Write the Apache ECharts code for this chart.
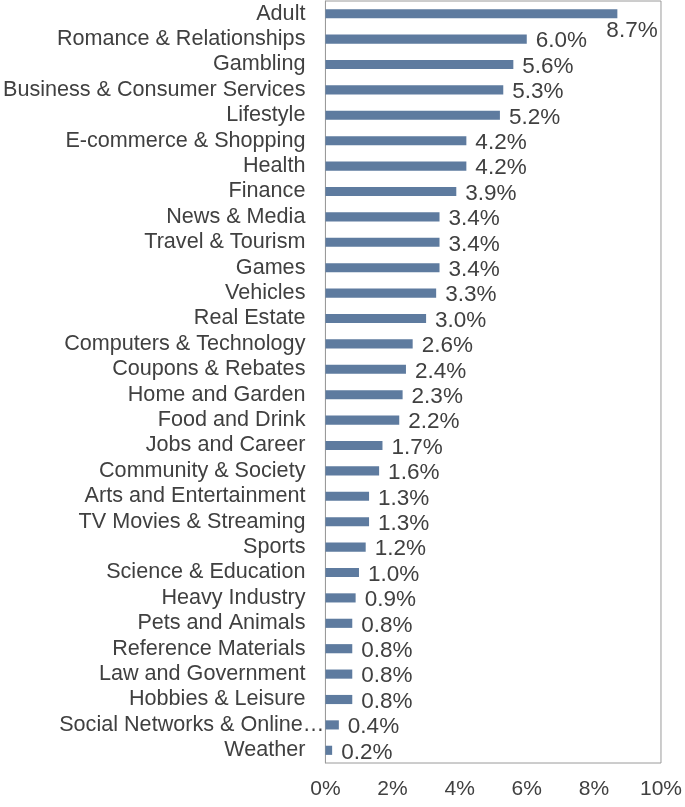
<!DOCTYPE html>
<html><head><meta charset="utf-8">
<script src="https://cdn.jsdelivr.net/npm/echarts@6/dist/echarts.min.js"></script>
<style>html,body{margin:0;padding:0;background:#fff}#c{width:685px;height:807px}</style>
</head><body><div id="c"></div>
<script>
const categories = ["Adult","Romance & Relationships","Gambling","Business & Consumer Services","Lifestyle","E-commerce & Shopping","Health","Finance","News & Media","Travel & Tourism","Games","Vehicles","Real Estate","Computers & Technology","Coupons & Rebates","Home and Garden","Food and Drink","Jobs and Career","Community & Society","Arts and Entertainment","TV Movies & Streaming","Sports","Science & Education","Heavy Industry","Pets and Animals","Reference Materials","Law and Government","Hobbies & Leisure","Social Networks & Online…","Weather"];
const values = [8.7,6.0,5.6,5.3,5.2,4.2,4.2,3.9,3.4,3.4,3.4,3.3,3.0,2.6,2.4,2.3,2.2,1.7,1.6,1.3,1.3,1.2,1.0,0.9,0.8,0.8,0.8,0.8,0.4,0.2];
const xTicks = [0,2,4,6,8,10];

const chart = echarts.init(document.getElementById('c'), null, {renderer:'canvas'});
const txt = '#404040';
const font = 'Liberation Sans, Arial, sans-serif';
chart.setOption({
  animation:false,
  grid:{left:325,right:23,top:1,bottom:44,show:true,borderColor:'#9a9a9a',borderWidth:1,containLabel:false},
  xAxis:{type:'value',min:xTicks[0],max:xTicks[xTicks.length-1],interval:2,
    axisLine:{show:false},axisTick:{show:false},splitLine:{show:false},
    axisLabel:{formatter:v=>v+'%',fontSize:21,color:txt,fontFamily:font,margin:16}},
  yAxis:{type:'category',inverse:true,
    data:categories.map(c=>c.endsWith('…')?{value:c,textStyle:{padding:[0,-19,0,0]}}:c),
    axisLine:{show:true,lineStyle:{color:'#9a9a9a'}},axisTick:{show:false},
    axisLabel:{fontSize:21.6,color:txt,fontFamily:font,margin:20,interval:0}},
  series:[{type:'bar',barWidth:'36%',
    data:values.map((v,i)=>i===0?{value:v,label:{offset:[-20,17]}}:v),
    itemStyle:{color:'#5e7b9f'},
    label:{show:true,position:'right',distance:9,offset:[0,2],formatter:p=>p.value.toFixed(1)+'%',fontSize:22.5,color:txt,fontFamily:font}}]
});
</script></body></html>
